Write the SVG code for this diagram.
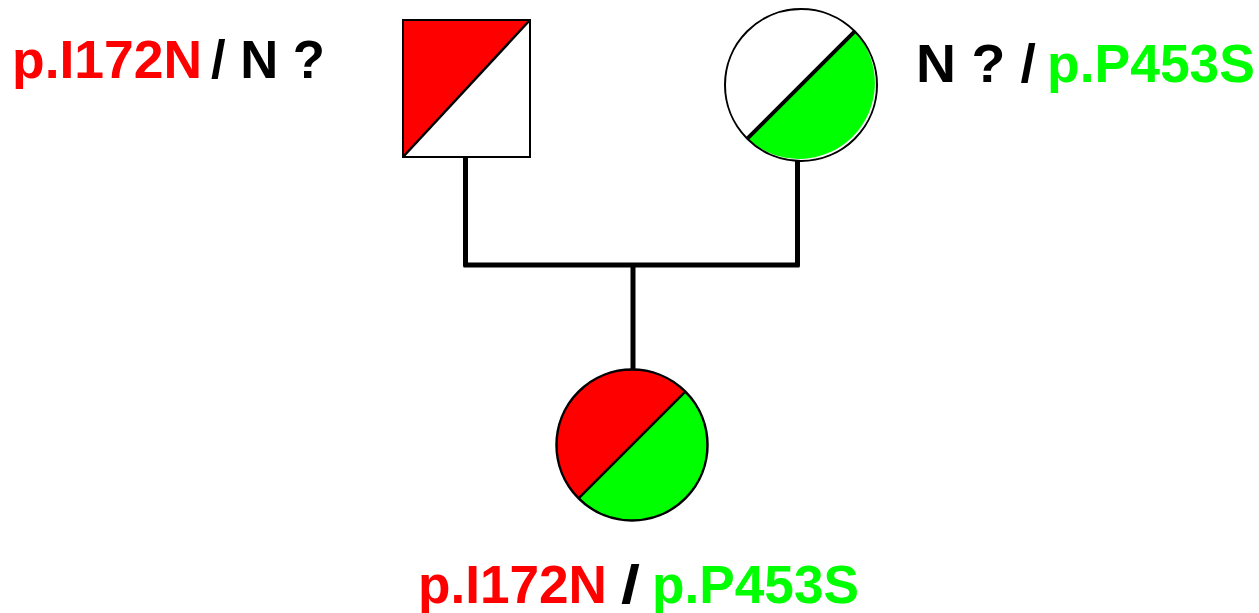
<svg xmlns="http://www.w3.org/2000/svg" width="1259" height="613" viewBox="0 0 1259 613">
  <style>
    .lbl { font-family: "Liberation Sans", Arial, sans-serif; font-weight: bold; font-size: 54px; }
    .red { fill: #FF0000; }
    .grn { fill: #00FF00; }
    .blk { fill: #000000; }
    .outline { stroke: #000; stroke-width: 2; }
    .link { stroke: #000; stroke-width: 5; fill: none; stroke-linecap: square; }
  </style>

  <!-- pedigree lines -->
  <g id="connectors">
    <line class="link" x1="465.5" y1="159" x2="465.5" y2="264"/>
    <line class="link" x1="797.5" y1="161" x2="797.5" y2="264"/>
    <line class="link" x1="466" y1="265" x2="797" y2="265"/>
    <line class="link" x1="633" y1="266" x2="633" y2="369"/>
  </g>

  <!-- father: square, upper-left half red -->
  <g id="father">
    <rect x="403" y="20" width="127" height="137" fill="#fff" class="outline"/>
    <polygon points="403,20 530,20 403,157" fill="#FF0000"/>
    <line x1="403" y1="157" x2="530" y2="20" stroke="#000" stroke-width="2.5"/>
    <rect x="403" y="20" width="127" height="137" fill="none" class="outline"/>
  </g>

  <!-- mother: circle, lower-right half green -->
  <g id="mother">
    <circle cx="801" cy="85" r="76" fill="#fff"/>
    <path d="M747.3,138.7 A76,76 0 0 0 854.7,31.3 Z" fill="#00FF00"/>
    <line x1="747.3" y1="138.7" x2="854.7" y2="31.3" stroke="#000" stroke-width="4"/>
    <circle cx="801" cy="85" r="76" fill="none" class="outline"/>
  </g>

  <!-- child: circle, red upper-left, green lower-right -->
  <g id="child">
    <path d="M578.6,498.4 A75.5,75.5 0 0 1 685.4,391.6 Z" fill="#FF0000"/>
    <path d="M578.6,498.4 A75.5,75.5 0 0 0 685.4,391.6 Z" fill="#00FF00"/>
    <line x1="578.6" y1="498.4" x2="685.4" y2="391.6" stroke="#000" stroke-width="2.5"/>
    <circle cx="632" cy="445" r="75.5" fill="none" stroke="#000" stroke-width="2.5"/>
  </g>

  <!-- genotype labels -->
  <g id="label-father">
    <text class="lbl red" x="12" y="78" textLength="190" lengthAdjust="spacingAndGlyphs">p.I172N</text>
    <text class="lbl blk" x="211" y="78" textLength="114" lengthAdjust="spacingAndGlyphs">/ N ?</text>
  </g>
  <g id="label-mother">
    <text class="lbl blk" x="916" y="82" textLength="120" lengthAdjust="spacingAndGlyphs">N ? /</text>
    <text class="lbl grn" x="1047" y="82" textLength="208" lengthAdjust="spacingAndGlyphs">p.P453S</text>
  </g>
  <g id="label-child">
    <text class="lbl red" x="418" y="603" textLength="189" lengthAdjust="spacingAndGlyphs">p.I172N</text>
    <text class="lbl blk" x="621" y="603" textLength="19" lengthAdjust="spacingAndGlyphs">/</text>
    <text class="lbl grn" x="652" y="603" textLength="207" lengthAdjust="spacingAndGlyphs">p.P453S</text>
  </g>
</svg>
